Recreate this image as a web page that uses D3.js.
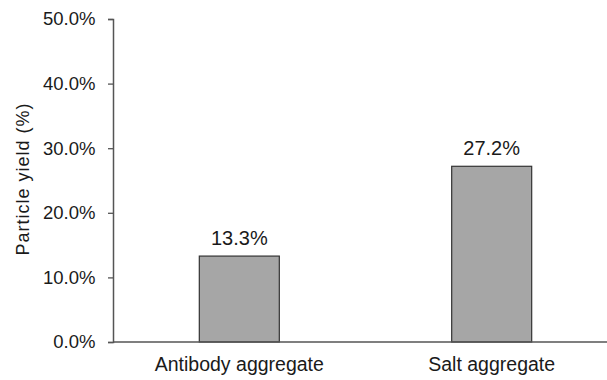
<!DOCTYPE html>
<html>
<head>
<meta charset="utf-8">
<script src="https://cdn.jsdelivr.net/npm/d3@7"></script>
<style>
  body { margin: 0; background: #fff; }
  text { font-family: "Liberation Sans", Arial, sans-serif; fill: #1a1a1a; }
</style>
</head>
<body>
<script>
(() => {
    // dados
    var categories = ["Antibody aggregate", "Salt aggregate"];
    var yields = [0.133, 0.272];
    var yTicks = [0, 0.1, 0.2, 0.3, 0.4, 0.5];

    var w = 607,
        h = 380;

    var margin = { top: 19, bottom: 38, left: 113, right: -11 };

    var svg = d3.select("body").append("svg")
        .attr("width", w).attr("height", h);

    var graph = svg.append("g")
        .attr("transform", "translate(" + [margin.left, margin.top] + ")");

    var iw = w - margin.left - margin.right,
        ih = h - margin.top - margin.bottom;

    var x = d3.scaleBand().domain(categories).range([0, iw]).paddingInner(0.683).paddingOuter(0.342);
    var y = d3.scaleLinear().domain([0, 0.5]).range([ih, 0]);

    var fmt = d3.format(".1%");
    var axisColor = "#555";

    // barras
    graph.selectAll(".bar").data(yields).enter()
        .append("rect").attr("class", "bar")
        .attr("x", (d, i) => x(categories[i]))
        .attr("width", x.bandwidth())
        .attr("y", d => y(d))
        .attr("height", d => ih - y(d))
        .attr("fill", "#a6a6a6")
        .attr("stroke", "#333")
        .attr("stroke-width", 1.2);

    graph.selectAll(".val").data(yields).enter()
        .append("text").attr("class", "val")
        .attr("x", (d, i) => x(categories[i]) + x.bandwidth() / 2)
        .attr("y", d => y(d) - 11.5)
        .attr("text-anchor", "middle")
        .attr("font-size", 20)
        .text(d => fmt(d));

    // eixo y
    var yAxis = graph.append("g")
        .call(d3.axisLeft(y).tickValues(yTicks).tickFormat(fmt).tickSizeOuter(0).tickSize(5).tickPadding(12.5));
    yAxis.select(".domain").attr("stroke", axisColor).attr("stroke-width", 1.5);
    yAxis.selectAll(".tick line").attr("stroke", axisColor).attr("stroke-width", 1.3);
    yAxis.selectAll(".tick text").attr("font-size", 18.5).attr("fill", "#1a1a1a");

    // eixo x
    graph.append("line")
        .attr("x1", 0).attr("x2", w - margin.left)
        .attr("y1", ih).attr("y2", ih)
        .attr("stroke", axisColor).attr("stroke-width", 1.5);

    graph.selectAll(".cat").data(categories).enter()
        .append("text").attr("class", "cat")
        .attr("x", d => x(d) + x.bandwidth() / 2)
        .attr("y", ih + 29)
        .attr("text-anchor", "middle")
        .attr("font-size", 19.5)
        .text(d => d);

    svg.append("text")
        .attr("transform", "translate(28.5,179) rotate(-90)")
        .attr("text-anchor", "middle")
        .attr("font-size", 18)
        .attr("letter-spacing", 1)
        .text("Particle yield (%)");
})()
</script>
</body>
</html>
